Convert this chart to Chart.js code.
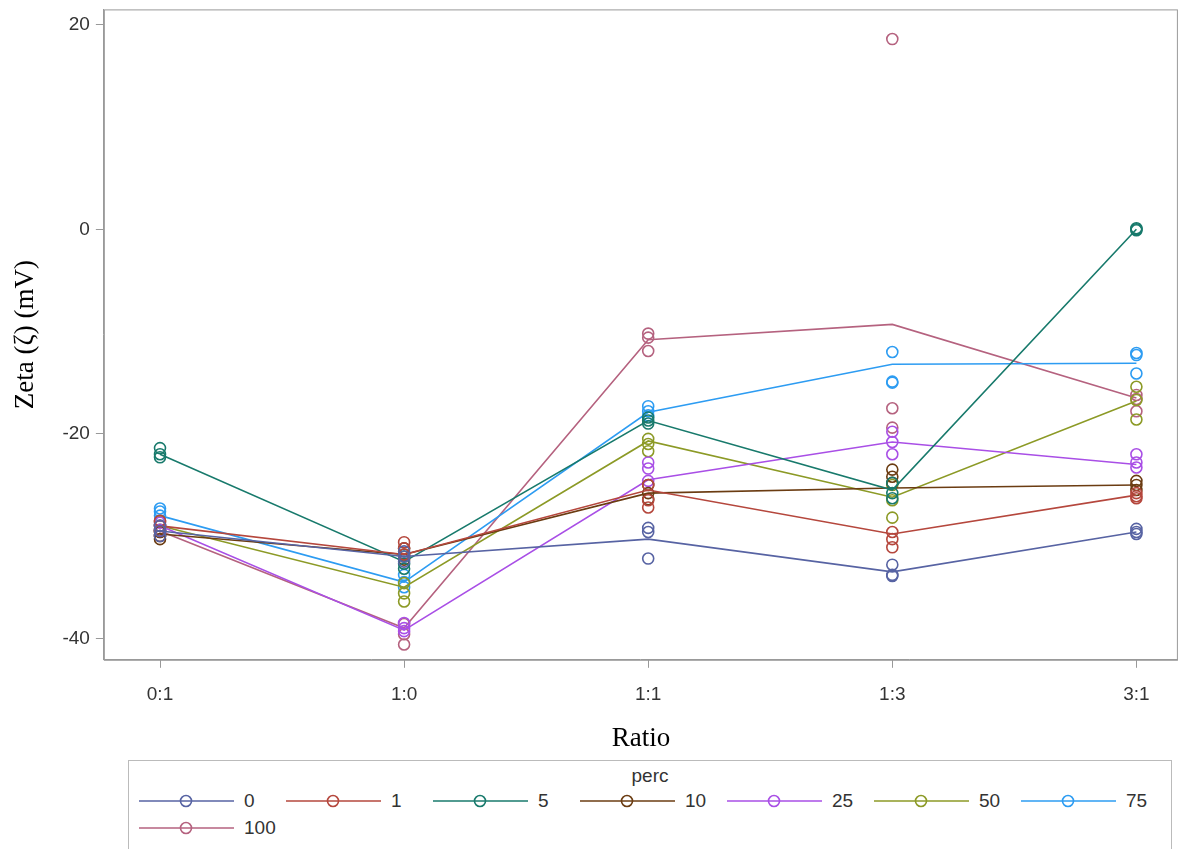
<!DOCTYPE html>
<html>
<head>
<meta charset="utf-8">
<script src="https://cdn.jsdelivr.net/npm/chart.js@4"></script>
<style>
  body { margin: 0; background: #fff; font-family: 'Liberation Sans', Arial, sans-serif; overflow: hidden; }
  #wrap { position: absolute; left: 0; top: -8px; width: 1185px; height: 763px; }
  #legend { position: absolute; left: 128px; top: 760px; width: 1044px; height: 95px; border: 1px solid #bbb; box-sizing: border-box; }
  #legend .title { text-align: center; font-size: 19px; color: #333; margin-top: 4px; }
  #legend .items { display: flex; flex-wrap: wrap; padding-left: 10px; }
  #legend .item { display: flex; align-items: center; width: 147px; height: 27px; font-size: 19px; color: #333; }
  #legend svg { margin-right: 10px; }
</style>
</head>
<body>
<div id="wrap"><canvas id="c" width="1185" height="763"></canvas></div>
<div id="legend"><div class="title">perc</div><div class="items" id="items"></div></div>
<script>
const categories = ['0:1', '1:0', '1:1', '1:3', '3:1'];
const groups = ['0', '1', '5', '10', '25', '50', '75', '100'];
const colors = ['#5763a3', '#b5473d', '#187a6c', '#6b3c12', '#a94fe6', '#8c9a26', '#2d9cf2', '#b5627f'];

// mean line per group
const means = [
  [-29.5, -32.0, -30.3, -33.5, -29.6],
  [-29.0, -31.8, -25.5, -29.8, -26.0],
  [-22.0, -32.5, -18.7, -25.5, 0.0],
  [-29.8, -31.8, -25.8, -25.3, -25.0],
  [-29.0, -39.2, -24.5, -20.8, -23.0],
  [-29.0, -35.0, -20.7, -26.2, -16.8],
  [-28.0, -34.5, -17.9, -13.2, -13.1],
  [-29.5, -39.0, -10.8, -9.3, -16.5]
];

// observations per group, per category
const obs = [
  [[-29.0, -29.5, -30.0], [-31.5, -32.0, -32.5], [-29.2, -29.6, -32.2], [-32.8, -33.8, -33.9], [-29.3, -29.6, -29.8]],
  [[-28.5, -29.0, -29.5], [-30.6, -31.2, -31.8], [-25.0, -26.5, -27.2], [-29.6, -30.3, -31.1], [-25.8, -26.1, -26.3]],
  [[-21.4, -22.0, -22.3], [-32.0, -32.7, -33.2], [-18.4, -18.7, -19.0], [-24.8, -25.8, -26.3], [-0.1, 0.0, 0.1]],
  [[-29.6, -30.0, -30.3], [-31.2, -31.8, -32.3], [-25.0, -25.8, -26.4], [-23.5, -24.2, -24.8], [-24.6, -25.0, -25.5]],
  [[-28.7, -29.0, -29.4], [-38.5, -39.0, -39.3], [-22.8, -23.4, -24.6], [-19.8, -20.8, -22.0], [-22.0, -22.8, -23.3]],
  [[-28.6, -29.0, -29.4], [-34.6, -35.6, -36.4], [-20.5, -21.0, -21.7], [-25.0, -26.5, -28.2], [-15.4, -16.7, -18.6]],
  [[-27.3, -27.6, -28.0], [-33.8, -34.5, -35.0], [-17.3, -17.8, -18.2], [-12.0, -14.9, -15.0], [-12.1, -12.3, -14.1]],
  [[-28.5, -29.6, -30.0], [-38.6, -39.6, -40.6], [-10.2, -10.6, -11.9], [18.6, -17.5, -19.4], [-16.2, -16.6, -17.8]]
];

const datasets = [];
groups.forEach((g, i) => {
  datasets.push({
    type: 'line', label: g,
    data: means[i].map((v, k) => ({ x: k, y: v })),
    borderColor: colors[i], borderWidth: 1.6, pointRadius: 0, fill: false, tension: 0
  });
  const pts = [];
  obs[i].forEach((arr, k) => arr.forEach(v => pts.push({ x: k, y: v })));
  datasets.push({
    type: 'scatter', label: g + ' obs', data: pts,
    borderColor: colors[i], backgroundColor: 'rgba(0,0,0,0)',
    pointRadius: 5.5, borderWidth: 1.6, pointStyle: 'circle'
  });
});

new Chart(document.getElementById('c'), {
  type: 'scatter',
  data: { datasets },
  options: {
    responsive: false,
    animation: false,
    layout: { padding: { top: 0, right: 0, left: 6, bottom: 0 } },
    plugins: { legend: { display: false }, tooltip: { enabled: false } },
    scales: {
      x: {
        type: 'linear', min: -0.23, max: 4.17,
        afterBuildTicks: axis => { axis.ticks = categories.map((c, k) => ({ value: k })); },
        ticks: { callback: v => categories[v], color: '#333', font: { family: "'Liberation Sans'", size: 19 }, padding: 16 },
        grid: { display: true, drawOnChartArea: false, drawTicks: true, tickLength: 8, color: '#999' },
        border: { color: '#999' },
        title: { display: true, text: 'Ratio', color: '#000', font: { family: "'Liberation Serif'", size: 27 }, padding: { top: 0, bottom: 0 } }
      },
      y: {
        min: -42.1, max: 21.5,
        afterBuildTicks: axis => { axis.ticks = [-40, -20, 0, 20].map(v => ({ value: v })); },
        ticks: { color: '#333', font: { family: "'Liberation Sans'", size: 19 }, padding: 6 },
        grid: { display: true, drawOnChartArea: false, drawTicks: true, tickLength: 8, color: '#999' },
        border: { color: '#999' },
        title: { display: true, text: 'Zeta (ζ) (mV)', color: '#000', font: { family: "'Liberation Serif'", size: 27 }, padding: { bottom: 14 } }
      }
    }
  },
  plugins: [{
    id: 'frame',
    afterDraw(chart) {
      const a = chart.chartArea, ctx = chart.ctx;
      ctx.save(); ctx.strokeStyle = '#999'; ctx.lineWidth = 1;
      ctx.strokeRect(a.left + 0.5, a.top + 0.5, a.right - a.left - 1, a.bottom - a.top);
      ctx.restore();
    }
  }]
});

const items = document.getElementById('items');
groups.forEach((g, i) => {
  const d = document.createElement('div');
  d.className = 'item';
  d.innerHTML = '<svg width="95" height="16"><line x1="0" y1="8" x2="95" y2="8" stroke="' + colors[i] + '" stroke-width="1.6"/><circle cx="47" cy="8" r="5.5" fill="none" stroke="' + colors[i] + '" stroke-width="1.6"/></svg>' + g;
  items.appendChild(d);
});
</script>
</body>
</html>
